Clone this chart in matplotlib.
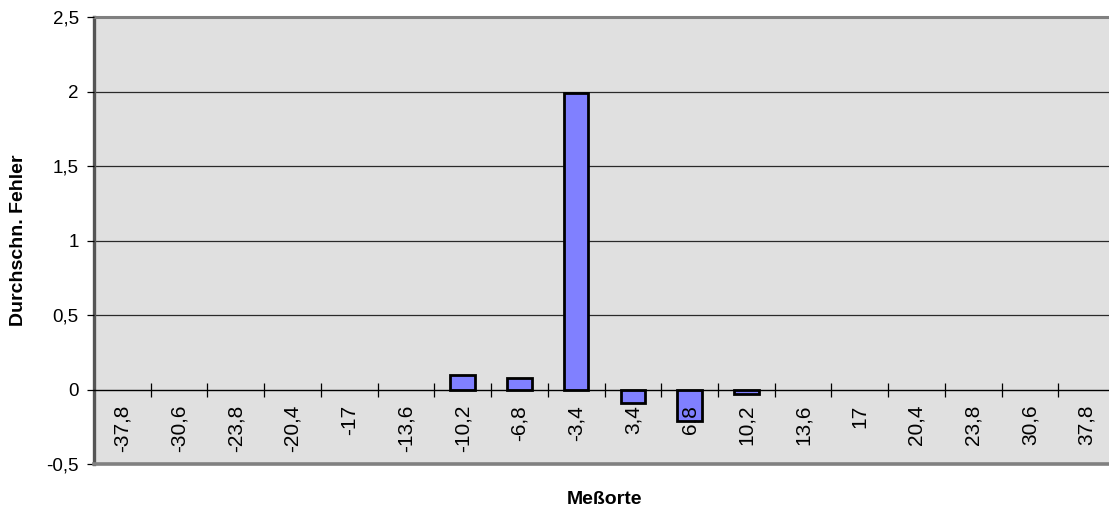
import numpy as np
import matplotlib
matplotlib.use("Agg")
import matplotlib.pyplot as plt

plt.rcParams["font.family"] = ["Liberation Sans", "DejaVu Sans"]

# data
orte = ["-37,8", "-30,6", "-23,8", "-20,4", "-17", "-13,6", "-10,2", "-6,8", "-3,4",
        "3,4", "6,8", "10,2", "13,6", "17", "20,4", "23,8", "30,6", "37,8"]
fehler = [0, 0, 0, 0, 0, 0, 0.10, 0.08, 1.99,
          -0.09, -0.21, -0.03, 0, 0, 0, 0, 0, 0]
y_ticks = [-0.5, 0, 0.5, 1, 1.5, 2, 2.5]
y_labels = ["-0,5", "0", "0,5", "1", "1,5", "2", "2,5"]

fig = plt.figure(figsize=(11.09, 5.13), dpi=100)
ax = fig.add_axes([94 / 1109, 1 - 464 / 513, 1021 / 1109, 447 / 513])
ax.set_facecolor("#E0E0E0")
ax.set_axisbelow(False)

x = np.arange(len(orte))
# Excel draws nothing for zero-valued bars
edge_w = [2.0 if v != 0 else 0 for v in fehler]
ax.bar(x, fehler, width=0.43, color="#8080FF", edgecolor="black", linewidth=edge_w, zorder=2)

ax.set_xlim(-0.5, len(orte) - 0.5)
ax.set_ylim(-0.5, 2.5)

# horizontal gridlines
for yv in y_ticks[2:-1]:
    ax.axhline(yv, color="#2a2a2a", lw=0.9, zorder=1)

# category axis crosses at zero
ax.spines["bottom"].set_position(("data", 0))
ax.spines["bottom"].set_color("black")
ax.spines["bottom"].set_linewidth(1.0)
ax.spines["right"].set_visible(False)
ax.spines["top"].set_color("#808080")
ax.spines["top"].set_linewidth(2.2)
ax.spines["left"].set_color("#555555")
ax.spines["left"].set_linewidth(2.4)
ax.axhline(-0.5, color="#808080", lw=2.6, clip_on=False, zorder=4)

ax.set_xticks(x[:-1] + 0.5)
ax.set_xticklabels([])
ax.set_xticks(x, minor=True)
ax.set_xticklabels(orte, minor=True, rotation=90, va="top", ha="center", fontsize=15)
ax.tick_params(axis="x", which="major", direction="inout", length=10, width=0.9, color="black")
ax.tick_params(axis="x", which="minor", length=0, pad=11)

ax.set_yticks(y_ticks)
ax.set_yticklabels(y_labels, fontsize=13.5)
ax.tick_params(axis="y", direction="out", length=5, width=0.9, pad=6)

fig.text(19 / 1109, 1 - 240 / 513, "Durchschn. Fehler", rotation=90, ha="center", va="center",
         fontsize=14, fontweight="bold")
fig.text(605 / 1109, 1 - 499 / 513, "Meßorte", ha="center", va="center",
         fontsize=14, fontweight="bold")

fig.savefig("out.png", dpi=100)
